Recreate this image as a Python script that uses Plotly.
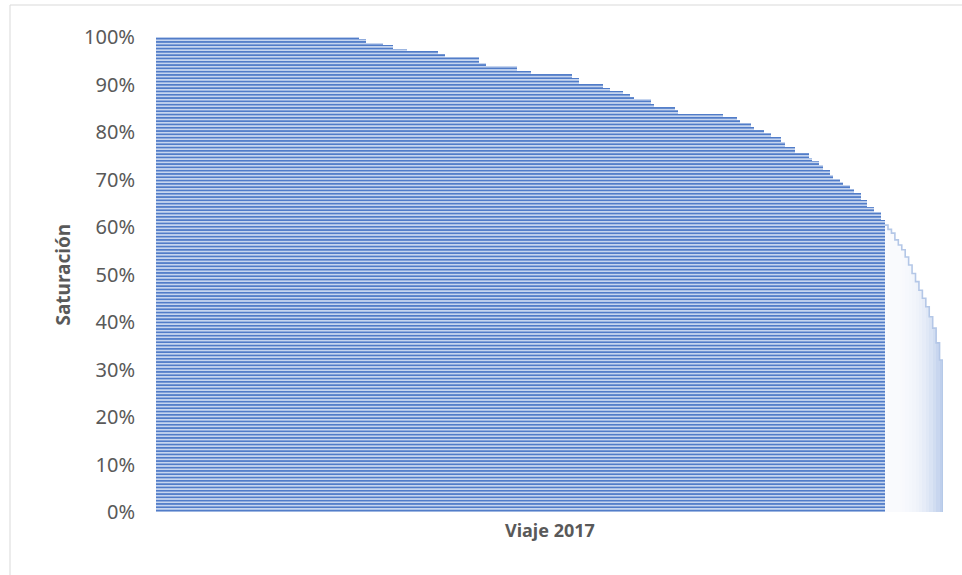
import plotly.graph_objects as go

# Saturation (%), as runs of equal values (sorted descending)
run_values = [100, 99.5, 98.7, 98.3, 97.4, 97.1, 96.4, 95.7, 94.5, 93.9,
              92.9, 92.2, 91.4, 90.2, 89.2, 88.7, 88.1, 87.3, 87.0, 86.0,
              85.3, 84.6, 83.8, 83.2, 82.5, 81.8, 81.1, 80.4, 79.7, 79.0,
              78.0, 76.9, 75.5, 74.5, 73.8, 73.0, 72.0, 71.0, 70.2, 69.5,
              68.8, 68.1, 67.1, 65.7, 64.3, 63.2, 61.5]
run_counts = [59, 2, 5, 3, 4, 9, 2, 10, 2, 9,
              4, 12, 2, 7, 2, 4, 2, 1, 5, 1,
              6, 1, 13, 4, 1, 3, 1, 3, 2, 3,
              1, 3, 4, 1, 2, 1, 2, 1, 2, 1,
              2, 1, 2, 2, 2, 2, 1]
# Trips below the 60% threshold (drawn faded)
low_values = [60.4, 59.5, 58.7, 57.3, 56.2, 55.2, 53.7, 52.0, 50.2, 48.5,
              46.7, 45.0, 43.2, 41.1, 38.7, 35.6, 32.0]

category_label = "Viaje 2017"
y_title = "Saturación"

high_values = []
for v, c in zip(run_values, run_counts):
    high_values += [v] * c

n_high = len(high_values)
n_total = n_high + len(low_values)
x_high = list(range(n_high))
x_low = list(range(n_high, n_total))

fig = go.Figure()
fig.add_trace(go.Bar(
    x=x_high, y=[v / 100 for v in high_values], width=1.0,
    marker=dict(color="#4472C4", line=dict(width=0),
                pattern=dict(shape="-", fgcolor="#4472C4", bgcolor="#C6D5EF",
                             size=3.3, solidity=0.45, fillmode="replace")),
    showlegend=False, hoverinfo="skip"))

# faded bars: colours get bluer toward the right edge
m = len(low_values)
low_colors = []
for k in range(m):
    t = (k / (m - 1)) ** 3
    r = int(250 - t * (250 - 190))
    g = int(251 - t * (251 - 207))
    b = int(254 - t * (254 - 236))
    low_colors.append(f"rgb({r},{g},{b})")
fig.add_trace(go.Bar(
    x=x_low, y=[v / 100 for v in low_values], width=1.0,
    marker=dict(color=low_colors, line=dict(width=0)),
    showlegend=False, hoverinfo="skip"))

# light-blue outline along the faded bars' tops
ox = [i - 0.5 for i in x_low] + [n_total - 0.5, n_total - 0.5]
oy = [v / 100 for v in low_values] + [low_values[-1] / 100, 0]
fig.add_trace(go.Scatter(x=ox, y=oy, mode="lines", line=dict(shape="hv", color="#B4C7E7", width=1.6),
                         showlegend=False, hoverinfo="skip"))

fig.update_layout(
    width=962, height=575,
    margin=dict(l=156, r=19, t=37, b=63),
    paper_bgcolor="white", plot_bgcolor="white",
    bargap=0, barmode="overlay",
    font=dict(family="Noto Sans", color="#595959"),
    xaxis=dict(range=[-0.5, n_total - 0.5], showticklabels=False, showgrid=False,
               zeroline=False, showline=False, ticks=""),
    yaxis=dict(range=[0, 1], dtick=0.1, tickformat=".0%", showgrid=False,
               zeroline=False, showline=False, ticks="", ticklabelstandoff=20,
               tickfont=dict(size=20, color="#595959")),
    annotations=[
        dict(text=f"<b>{category_label}</b>", xref="paper", yref="paper",
             x=0.5, y=-0.038, xanchor="center", yanchor="middle", showarrow=False,
             font=dict(size=18, color="#595959")),
        dict(text=f"<b>{y_title}</b>", xref="paper", yref="paper",
             x=(62 - 156) / 787, y=0.5, xanchor="center", yanchor="middle", showarrow=False,
             textangle=-90, font=dict(size=19, color="#595959")),
    ],
    shapes=[
        dict(type="line", xref="paper", yref="paper", x0=(10 - 156) / 787, x1=(962 - 156) / 787,
             y0=(512 - 5) / 475, y1=(512 - 5) / 475, line=dict(color="#D9D9D9", width=1)),
        dict(type="line", xref="paper", yref="paper", x0=(10 - 156) / 787, x1=(10 - 156) / 787,
             y0=(512 - 5) / 475, y1=(512 - 575) / 475, line=dict(color="#D9D9D9", width=1)),
    ],
)

fig.write_html("out.html", config={"displayModeBar": False},
               post_script="document.body.style.margin='0';")
